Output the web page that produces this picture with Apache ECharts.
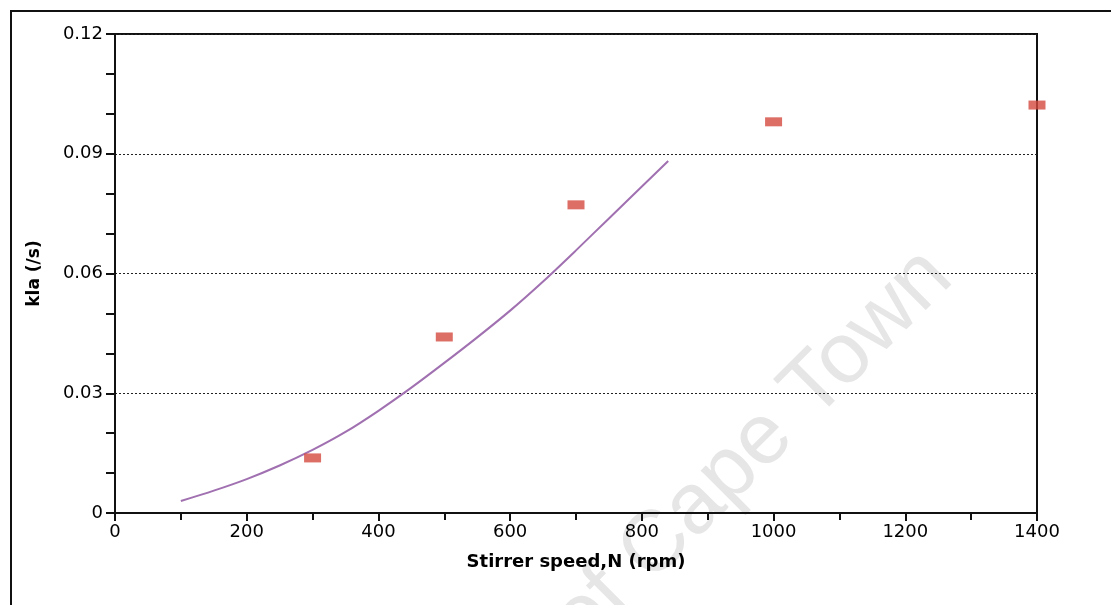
<!DOCTYPE html>
<html>
<head>
<meta charset="utf-8">
<script src="https://cdn.jsdelivr.net/npm/echarts@6/dist/echarts.min.js"></script>
<style>html,body{margin:0;padding:0;background:#fff;}#c{width:1111px;height:605px;}</style>
</head>
<body>
<div id="c"></div>
<script>
// Measured data points (stirrer speed rpm, kLa /s)
var pointSpeeds = [300, 500, 700, 1000, 1400];
var pointKla = [0.0138, 0.0441, 0.0772, 0.0980, 0.1022];
// Fitted curve
var curveSpeeds = [100, 150, 200, 250, 300, 350, 400, 450, 500, 550, 600, 650, 700, 750, 800, 840];
var curveKla = [0.0030, 0.0056, 0.0085, 0.0119, 0.0158, 0.0203, 0.0256, 0.0314, 0.0376, 0.0440, 0.0507, 0.0580, 0.0658, 0.0738, 0.0818, 0.0882];
var xTickLabels = ['0', '200', '400', '600', '800', '1000', '1200', '1400'];
var yTickLabels = ['0', '0.03', '0.06', '0.09', '0.12'];

var chart = echarts.init(document.getElementById('c'), null, {renderer: 'canvas'});
var tickFont = 'DejaVu Sans';
chart.setOption({
  animation: false,
  backgroundColor: '#fff',
  grid: {left: 115, right: 74, top: 34, bottom: 92, show: true, borderColor: '#111', borderWidth: 2, backgroundColor: 'transparent'},
  graphic: [
    {type: 'rect', shape: {x: 11, y: 11, width: 1300, height: 800}, style: {fill: 'none', stroke: '#111', lineWidth: 2}, z: -10},
    {type: 'text', x: 969, y: 294, rotation: Math.PI / 4, z: -10,
     style: {text: 'University of Cape Town', font: '86px "Liberation Sans"', fill: '#e6e6e6', textAlign: 'right', textVerticalAlign: 'bottom'}}
  ],
  xAxis: {
    type: 'value', min: 0, max: 1400, interval: 200,
    name: 'Stirrer speed,N (rpm)', nameLocation: 'middle', nameGap: 40,
    nameTextStyle: {fontFamily: tickFont, fontWeight: 'bold', fontSize: 18, color: '#000'},
    axisLine: {show: true, lineStyle: {color: '#111', width: 2}},
    axisTick: {show: true, length: 8, lineStyle: {color: '#111', width: 2}},
    minorTick: {show: true, splitNumber: 2, length: 7, lineStyle: {color: '#111', width: 2}},
    axisLabel: {fontFamily: tickFont, fontSize: 18, color: '#000', margin: 10,
      formatter: function (v) { return xTickLabels[Math.round(v / 200)] || ''; }},
    splitLine: {show: false}
  },
  yAxis: {
    type: 'value', min: 0, max: 0.12, interval: 0.03,
    name: 'kla (/s)', nameLocation: 'middle', nameGap: 72, nameRotate: 90,
    nameTextStyle: {fontFamily: tickFont, fontWeight: 'bold', fontSize: 17, color: '#000'},
    axisLine: {show: true, lineStyle: {color: '#111', width: 2}},
    axisTick: {show: true, length: 9, lineStyle: {color: '#111', width: 2}},
    minorTick: {show: true, splitNumber: 3, length: 9, lineStyle: {color: '#111', width: 2}},
    axisLabel: {fontFamily: tickFont, fontSize: 18, color: '#000', margin: 12,
      formatter: function (v) { return yTickLabels[Math.round(v / 0.03)] || ''; }},
    splitLine: {show: true, lineStyle: {color: '#222', width: 1, type: [2, 2]}}
  },
  series: [
    {type: 'line', data: curveSpeeds.map(function (x, i) { return [x, curveKla[i]]; }),
     smooth: 0.3, showSymbol: false, symbol: 'none', lineStyle: {color: '#a070b0', width: 2}, z: 3},
    {type: 'scatter', data: pointSpeeds.map(function (x, i) { return [x, pointKla[i]]; }),
     symbol: 'rect', symbolSize: [17, 9], itemStyle: {color: '#d54a3f'}, clip: false, z: 4}
  ]
});
</script>
</body>
</html>
